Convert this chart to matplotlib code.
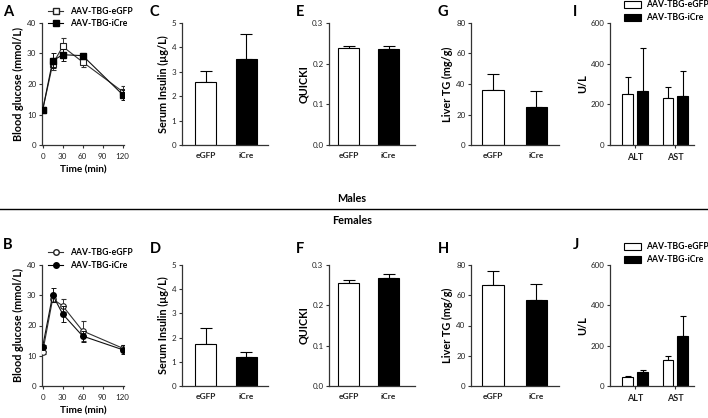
import matplotlib.pyplot as plt
import numpy as np
from matplotlib.lines import Line2D
from matplotlib.patches import Patch

plt.rcParams['font.family'] = ['Lato', 'DejaVu Sans']

# --- data ---------------------------------------------------------------
time_min = [0, 15, 30, 60, 120]

# males (A)
m_gluc_gfp = [11.5, 26.5, 32.3, 27.2, 17.5]
m_gluc_gfp_err = [0.8, 2.0, 2.7, 1.5, 1.8]
m_gluc_cre = [11.5, 27.6, 29.6, 29.3, 16.5]
m_gluc_cre_err = [0.8, 2.5, 1.9, 0.8, 1.6]
# females (B)
f_gluc_gfp = [11.2, 28.8, 26.5, 18.2, 12.5]
f_gluc_gfp_err = [0.5, 1.0, 2.2, 3.2, 1.2]
f_gluc_cre = [13.0, 30.1, 23.8, 16.5, 12.0]
f_gluc_cre_err = [0.5, 2.2, 2.7, 1.8, 1.5]

groups = ['eGFP', 'iCre']
m_insulin = [2.6, 3.52]
m_insulin_err = [0.44, 1.03]
f_insulin = [1.72, 1.18]
f_insulin_err = [0.67, 0.22]

m_quicki = [0.238, 0.235]
m_quicki_err = [0.005, 0.008]
f_quicki = [0.2555, 0.267]
f_quicki_err = [0.0075, 0.011]

m_tg = [36.1, 25.0]
m_tg_err = [10.2, 10.5]
f_tg = [66.8, 56.9]
f_tg_err = [9.0, 10.6]

enzymes = ['ALT', 'AST']
m_enz_gfp = [250, 233]
m_enz_gfp_err = [83, 54]
m_enz_cre = [267, 240]
m_enz_cre_err = [211, 125]
f_enz_gfp = [44.5, 130]
f_enz_gfp_err = [3.3, 20]
f_enz_cre = [69, 250]
f_enz_cre_err = [12, 95]

W, H = 708, 418
fig = plt.figure(figsize=(W / 100, H / 100), dpi=100)

AX_COL = '#333333'
YLAB = 7.8


def add_ax(x0, x1, top, bottom):
    ax = fig.add_axes([x0 / W, 1 - bottom / H, (x1 - x0) / W, (bottom - top) / H])
    for s in ['top', 'right']:
        ax.spines[s].set_visible(False)
    for s in ['left', 'bottom']:
        ax.spines[s].set_linewidth(0.9)
        ax.spines[s].set_color(AX_COL)
    ax.tick_params(direction='out', length=2.5, width=0.8, color=AX_COL,
                   labelsize=5.8, pad=1.5, labelcolor='#222222')
    return ax


def glucose(ax, gfp, gfp_err, cre, cre_err, marker_gfp, marker_cre):
    ax.errorbar(time_min, gfp, yerr=gfp_err, color='#333333', lw=0.8,
                marker=marker_gfp, ms=4, mfc='white', mec='#222222', mew=0.8,
                capsize=1.8, elinewidth=0.7, capthick=0.7, zorder=3)
    ax.errorbar(time_min, cre, yerr=cre_err, color='#111111', lw=0.8,
                marker=marker_cre, ms=4, mfc='black', mec='black',
                capsize=1.8, elinewidth=0.7, capthick=0.7, zorder=4)
    ax.set_xlim(-1, 122)
    ax.set_ylim(0, 40)
    ax.set_xticks([0, 30, 60, 90, 120])
    ax.set_yticks([0, 10, 20, 30, 40])
    ax.tick_params(axis='x', pad=3)
    ax.set_xlabel('Time (min)', fontsize=7.2, fontweight='bold', labelpad=4)
    ax.set_ylabel('Blood glucose (mmol/L)', fontsize=YLAB, fontweight='bold', labelpad=2)
    h = [Line2D([], [], color='#333333', lw=0.8, marker=marker_gfp, ms=4, mfc='white', mec='#222222'),
         Line2D([], [], color='black', lw=0.8, marker=marker_cre, ms=4, mfc='black', mec='black')]
    ax.legend(h, ['AAV-TBG-eGFP', 'AAV-TBG-iCre'], loc='lower left',
              bbox_to_anchor=(0.02, 0.92), frameon=False, handlelength=1.8,
              handletextpad=0.8, labelspacing=0.45, borderpad=0,
              prop={'size': 6.2, 'weight': 'bold'})


def two_bars(ax, vals, errs, xlim, width, ylim, yticks, ylabel, fmt=None):
    x = np.arange(len(groups))
    ax.bar(x, vals, width=width, color=['white', 'black'], edgecolor='black', linewidth=0.8, zorder=2)
    ax.errorbar(x, vals, yerr=[[0, 0], errs], fmt='none', ecolor='black',
                elinewidth=0.8, capsize=4, capthick=0.8, zorder=1)
    ax.set_xlim(*xlim)
    ax.set_ylim(*ylim)
    ax.set_yticks(yticks)
    if fmt:
        ax.set_yticklabels([fmt % t for t in yticks])
    ax.set_xticks(x)
    ax.set_xticklabels(groups, fontsize=6, fontweight='bold')
    ax.tick_params(axis='x', length=0, pad=5)
    ax.set_ylabel(ylabel, fontsize=YLAB, fontweight='bold', labelpad=2)


def enz_bars(ax, gfp, gfp_err, cre, cre_err):
    x = np.arange(len(enzymes))
    off, w = 0.185, 0.27
    ax.bar(x - off, gfp, width=w, color='white', edgecolor='black', linewidth=0.8, zorder=2)
    ax.bar(x + off, cre, width=w, color='black', edgecolor='black', linewidth=0.8, zorder=2)
    ax.errorbar(x - off, gfp, yerr=[[0] * 2, gfp_err], fmt='none', ecolor='black',
                elinewidth=0.8, capsize=2.5, capthick=0.8, zorder=1)
    ax.errorbar(x + off, cre, yerr=[[0] * 2, cre_err], fmt='none', ecolor='black',
                elinewidth=0.8, capsize=2.5, capthick=0.8, zorder=1)
    ax.set_xlim(-0.62, 1.46)
    ax.set_ylim(0, 600)
    ax.set_yticks([0, 200, 400, 600])
    ax.set_xticks(x)
    ax.set_xticklabels(enzymes, fontsize=6.5, fontweight='bold')
    ax.tick_params(axis='x', pad=3)
    ax.set_ylabel('U/L', fontsize=YLAB, fontweight='bold', labelpad=2)
    h = [Patch(facecolor='white', edgecolor='black', lw=0.8),
         Patch(facecolor='black', edgecolor='black', lw=0.8)]
    ax.legend(h, ['AAV-TBG-eGFP', 'AAV-TBG-iCre'], loc='lower left',
              bbox_to_anchor=(0.12, 0.97), frameon=False, handlelength=1.9,
              handleheight=1.0, handletextpad=0.6, labelspacing=0.45, borderpad=0,
              prop={'size': 6.2, 'weight': 'bold'})


rows = [
    dict(top=23, bottom=145, gl=(m_gluc_gfp, m_gluc_gfp_err, m_gluc_cre, m_gluc_cre_err, 's', 's'),
         ins=(m_insulin, m_insulin_err), q=(m_quicki, m_quicki_err), tg=(m_tg, m_tg_err),
         enz=(m_enz_gfp, m_enz_gfp_err, m_enz_cre, m_enz_cre_err)),
    dict(top=265, bottom=386, gl=(f_gluc_gfp, f_gluc_gfp_err, f_gluc_cre, f_gluc_cre_err, 'o', 'o'),
         ins=(f_insulin, f_insulin_err), q=(f_quicki, f_quicki_err), tg=(f_tg, f_tg_err),
         enz=(f_enz_gfp, f_enz_gfp_err, f_enz_cre, f_enz_cre_err)),
]

for r in rows:
    t, b = r['top'], r['bottom']
    glucose(add_ax(42, 124, t, b), *r['gl'])
    two_bars(add_ax(182, 268, t, b), *r['ins'], (-0.58, 1.54), 0.52, (0, 5),
             [0, 1, 2, 3, 4, 5], 'Serum Insulin (µg/L)')
    two_bars(add_ax(329, 415, t, b), *r['q'], (-0.49, 1.66), 0.52, (0, 0.3),
             [0, 0.1, 0.2, 0.3], 'QUICKI', fmt='%.1f')
    two_bars(add_ax(471, 559, t, b), *r['tg'], (-0.51, 1.52), 0.5, (0, 80),
             [0, 20, 40, 60, 80], 'Liver TG (mg/g)')
    enz_bars(add_ax(610, 694, t, b), *r['enz'])

# panel letters
letters = [('A', 3, 12), ('C', 150, 12), ('E', 296, 12), ('G', 438, 12), ('I', 573, 12),
           ('B', 3, 245), ('D', 150, 249), ('F', 296, 249), ('H', 438, 249), ('J', 573, 245)]
for s, x, y in letters:
    fig.text(x / W, 1 - y / H, s, fontsize=10.5, fontweight='bold', va='center', ha='left')

# sex separator
fig.add_artist(Line2D([0, 1], [1 - 209 / H] * 2, color='black', lw=1.0))
fig.text(352 / W, 1 - 199 / H, 'Males', fontsize=7.8, fontweight='bold', ha='center', va='center')
fig.text(352 / W, 1 - 220 / H, 'Females', fontsize=7.8, fontweight='bold', ha='center', va='center')

fig.savefig('out.png', dpi=100, facecolor='white')
